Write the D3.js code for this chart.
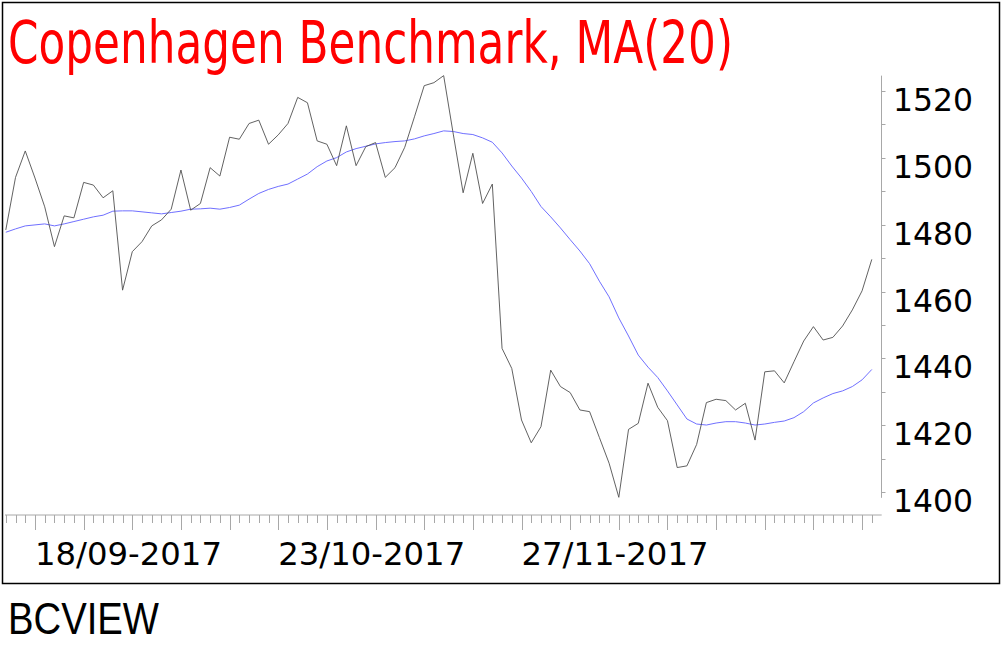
<!DOCTYPE html>
<html>
<head>
<meta charset="utf-8">
<script src="https://cdn.jsdelivr.net/npm/d3@7"></script>
<style>
html,body{margin:0;padding:0;background:#fff;}
svg{display:block;}
</style>
</head>
<body>
<svg id="chart" width="1004" height="650"></svg>
<script>
const title = "Copenhagen Benchmark, MA(20)";
const footer = "BCVIEW";
const price = [1478.4,1494.1,1502.0,1493.9,1485.3,1473.4,1482.6,1482.0,1492.6,1491.8,
1488.0,1490.1,1460.4,1471.9,1474.9,1479.6,1481.4,1484.6,1496.3,1484.3,
1486.3,1497.0,1494.5,1506.1,1505.5,1510.2,1511.2,1504.0,1506.8,1510.2,
1518.0,1516.4,1505.0,1504.0,1497.6,1509.5,1497.6,1503.3,1504.5,1494.1,
1497.0,1503.1,1512.2,1521.5,1522.4,1524.5,1506.8,1489.5,1501.3,1486.3,
1492.1,1443.0,1437.0,1421.6,1414.8,1419.6,1436.5,1431.6,1429.8,1424.6,
1424.1,1416.4,1408.7,1398.5,1418.8,1420.6,1432.6,1425.4,1421.4,1407.4,
1407.9,1414.3,1426.8,1427.8,1427.4,1424.6,1426.6,1415.6,1436.0,1436.3,
1432.7,1439.0,1445.2,1449.5,1445.5,1446.3,1449.7,1454.5,1460.2,1469.6];
const ma20 = [1477.7,1478.7,1479.6,1479.9,1480.2,1479.6,1480.2,1480.9,1481.6,1482.3,
1482.8,1484.0,1484.1,1484.1,1483.8,1483.5,1483.2,1483.6,1484.0,1484.6,
1484.7,1484.9,1484.6,1485.1,1485.8,1487.6,1489.3,1490.5,1491.4,1492.1,
1493.6,1495.1,1497.3,1499.0,1500.0,1501.7,1502.7,1503.4,1504.1,1504.5,
1504.8,1505.0,1505.6,1506.5,1507.2,1508.0,1507.8,1507.2,1506.9,1505.9,
1504.6,1501.4,1497.5,1493.9,1489.9,1485.4,1482.3,1479.0,1475.5,1472.1,
1468.3,1463.1,1458.4,1452.1,1446.7,1441.0,1437.4,1434.3,1430.3,1426.1,
1421.9,1420.4,1420.1,1420.7,1421.1,1421.1,1420.7,1420.1,1420.4,1420.9,
1421.3,1422.3,1424.1,1426.7,1428.2,1429.5,1430.3,1431.6,1433.6,1436.7];
const xLabels = [{i:3, text:"18/09-2017"},{i:28, text:"23/10-2017"},{i:53, text:"27/11-2017"}];
const yTickValues = [1400,1420,1440,1460,1480,1500,1520];
const yMinorValues = d3.range(1400, 1521, 10);

const svg = d3.select("#chart");
const n = price.length;
const x = d3.scaleLinear().domain([0, n-1]).range([5.8, 871.8]);
const y = d3.scaleLinear().domain([1400, 1520]).range([492.3, 90.7]);

// frame
svg.append("rect").attr("x",2.5).attr("y",2.5).attr("width",997).attr("height",581)
  .attr("fill","none").attr("stroke","#000").attr("stroke-width",1.5);

// title
svg.append("text").attr("x",8).attr("y",63).text(title)
  .attr("font-family","DejaVu Sans").attr("font-size",58).attr("fill","#ff0000")
  .attr("textLength",725).attr("lengthAdjust","spacingAndGlyphs");

// footer
svg.append("text").attr("x",8).attr("y",634).text(footer)
  .attr("font-family","Liberation Sans").attr("font-size",44).attr("fill","#000")
  .attr("textLength",151).attr("lengthAdjust","spacingAndGlyphs");

// x axis
const xAxisY = 515;
const gx = svg.append("g");
gx.append("line").attr("x1",5).attr("x2",881.7).attr("y1",xAxisY).attr("y2",xAxisY)
  .attr("stroke","#a8a8a8").attr("stroke-width",1);
gx.selectAll("line.t").data(d3.range(n)).enter().append("line").attr("class","t")
  .attr("x1",d=>Math.round(x(d))+0.5).attr("x2",d=>Math.round(x(d))+0.5)
  .attr("y1",xAxisY).attr("y2",d=> (d%5===3)?530:523)
  .attr("stroke","#a8a8a8").attr("stroke-width",1);
gx.selectAll("text").data(xLabels).enter().append("text")
  .attr("x",d=>x(d.i)).attr("y",565).text(d=>d.text)
  .attr("font-family","DejaVu Sans").attr("font-size",32).attr("fill","#000")
  .attr("textLength",187).attr("lengthAdjust","spacingAndGlyphs");

// y axis
const yAxisX = 881.5;
const [pMin, pMax] = d3.extent(price);
const gy = svg.append("g");
gy.append("line").attr("x1",yAxisX).attr("x2",yAxisX).attr("y1",y(pMax)).attr("y2",y(pMin)+0.5)
  .attr("stroke","#a8a8a8").attr("stroke-width",1);
gy.selectAll("line.t").data(yMinorValues).enter().append("line").attr("class","t")
  .attr("x1",yAxisX).attr("x2",yAxisX+4)
  .attr("y1",d=>Math.round(y(d))+0.5).attr("y2",d=>Math.round(y(d))+0.5)
  .attr("stroke","#a8a8a8").attr("stroke-width",1);
gy.selectAll("text").data(yTickValues).enter().append("text")
  .attr("x",893).attr("y",d=>y(d)+20).text(d=>d)
  .attr("font-family","DejaVu Sans").attr("font-size",32).attr("fill","#000")
  .attr("textLength",80).attr("lengthAdjust","spacingAndGlyphs");

// lines
const line = d3.line().x((d,i)=>x(i)).y(d=>y(d));
svg.append("path").attr("d",line(ma20)).attr("fill","none")
  .attr("stroke","#7070ff").attr("stroke-width",1);
svg.append("path").attr("d",line(price)).attr("fill","none")
  .attr("stroke","#505050").attr("stroke-width",0.9);
</script>
</body>
</html>
